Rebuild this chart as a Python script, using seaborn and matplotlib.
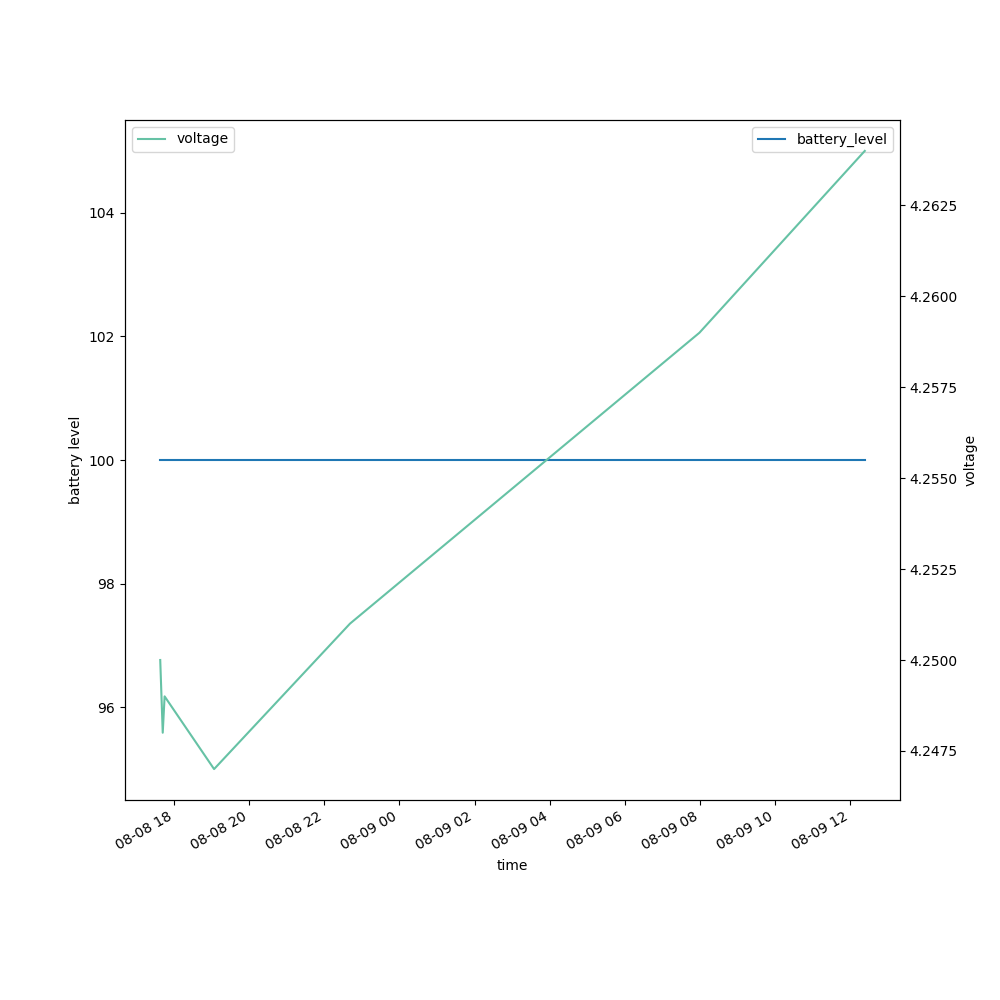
import pandas as pd
import seaborn as sns
import matplotlib
matplotlib.use('Agg')
import matplotlib.pyplot as plt

times = ['2023-08-08 17:38', '2023-08-08 17:42', '2023-08-08 17:45', '2023-08-08 19:04',
         '2023-08-08 22:41', '2023-08-09 07:59', '2023-08-09 12:23']
battery_level = [100, 100, 100, 100, 100, 100, 100]
voltage = [4.2500, 4.2480, 4.2490, 4.2470, 4.2510, 4.2590, 4.2640]

df = pd.DataFrame({'time': pd.to_datetime(times),
                   'battery_level': battery_level,
                   'voltage': voltage})

fig, ax = plt.subplots(figsize=(10, 10), dpi=100)
sns.lineplot(data=df, x='time', y='battery_level', ax=ax, label='battery_level', color='#1f77b4')
ax.set_ylabel('battery level')
ax.legend(loc='upper right')

ax2 = ax.twinx()
sns.lineplot(data=df, x='time', y='voltage', ax=ax2, label='voltage', color=sns.color_palette('Set2')[0])
ax2.set_ylabel('voltage')
ax2.legend(loc='upper left')

ax.set_xlabel('time')
fig.autofmt_xdate()
plt.savefig('out.png')
